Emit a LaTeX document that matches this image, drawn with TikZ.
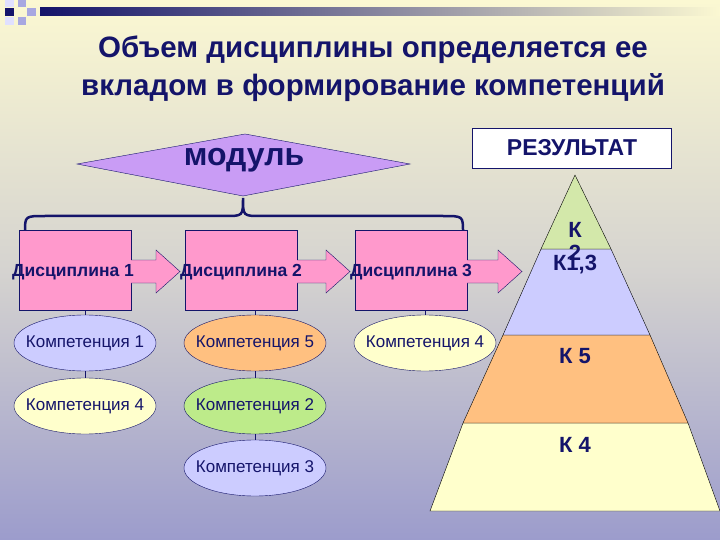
\documentclass[tikz,border=0pt]{standalone}
\usepackage{fontspec}
\setmainfont{Liberation Sans}
\usetikzlibrary{shapes.geometric}
\definecolor{navy}{HTML}{14146A}
\definecolor{pinkbox}{HTML}{FF99CC}
\definecolor{lav}{HTML}{CCCCFF}
\definecolor{pale}{HTML}{FFFFCC}
\definecolor{orng}{HTML}{FFC080}
\definecolor{grn}{HTML}{BDEB8A}
\definecolor{pgrn}{HTML}{D3E8AA}
\definecolor{viol}{HTML}{C99CF5}
\definecolor{bgtop}{HTML}{FBF8D2}
\definecolor{bgbot}{HTML}{9C9CCC}
\begin{document}
\begin{tikzpicture}[x=1pt,y=-1pt,
 disc/.style={draw=navy,fill=pinkbox,minimum width=112pt,minimum height=80pt,inner sep=0pt},
 disctext/.style={text=navy,font=\bfseries\fontsize{17.5}{17.5}\selectfont},
 comp/.style={ellipse,draw=navy,minimum width=142pt,minimum height=56pt,inner sep=0pt,text=navy,font=\fontsize{17}{17}\selectfont},
 comptext/.style={text=navy,font=\fontsize{17}{17}\selectfont},
 link/.style={draw=navy,thin},
 barrow/.style={draw=navy,fill=pinkbox},
 lvl/.style={draw=black,thin},
 klabel/.style={text=navy,font=\bfseries\fontsize{22}{22}\selectfont}]
\useasboundingbox (0,0) rectangle (720,540);
\shade[top color=bgtop,bottom color=bgbot,middle color=bgtop!60!bgbot] (0,0) rectangle (720,540);
% top decoration
\shade[left color=navy,right color=bgtop] (40,8) rectangle (720,16);
\fill[navy] (5,8) rectangle (14,16);
\fill[lav!80!navy] (18,0) rectangle (26,7);
\fill[lav!80!navy] (27,8) rectangle (36,16);
\fill[lav!80!navy] (18,17) rectangle (26,25);
\fill[lav!60!white] (5,0) rectangle (14,7);
\fill[lav!60!white] (5,17) rectangle (14,25);
% title
\node[text=navy,font=\bfseries\fontsize{29.5}{38}\selectfont,align=center] (title) at (373,69) {Объем дисциплины определяется ее\\вкладом в формирование компетенций};
% module diamond
\draw[navy,fill=viol] (77,164) -- (245,134) -- (410,164) -- (243,196) -- cycle;
\node[text=navy,font=\bfseries\fontsize{32}{32}\selectfont] (mod) at (244,160) {модуль};
% brace
\draw[navy,line width=2.5pt] (25,232) .. controls (25,216) .. (45,216) -- (225,216) .. controls (243,216) .. (243,198) .. controls (243,216) .. (261,216) -- (443,216) .. controls (463,216) .. (463,232);
% disciplines
\node[disc] (d1) at (75,270) {};
\node[disc] (d2) at (241,270) {};
\node[disc] (d3) at (411,270) {};
% block arrows
\foreach \s/\e in {131/180,297/350,467/522}{
 \draw[barrow] (\s,260) -- (\e-24,260) -- (\e-24,250) -- (\e,271.5) -- (\e-24,293) -- (\e-24,283) -- (\s,283);
}
\node[disctext] (t1) at (73,272) {Дисциплина 1};
\node[disctext] (t2) at (241,272) {Дисциплина 2};
\node[disctext] (t3) at (411,272) {Дисциплина 3};
% competencies (shapes, then texts)
\node[comp,fill=lav] (e1) at (85,343) {};
\node[comp,fill=pale] (e4a) at (85,406) {};
\node[comp,fill=orng] (e5) at (255,343) {};
\node[comp,fill=grn] (e2) at (255,406) {};
\node[comp,fill=lav] (e3) at (255,468) {};
\node[comp,fill=pale] (e4b) at (425,343) {};
\node[comptext] at (e1) {Компетенция 1};
\node[comptext] at (e4a) {Компетенция 4};
\node[comptext] at (e5) {Компетенция 5};
\node[comptext] at (e2) {Компетенция 2};
\node[comptext] at (e3) {Компетенция 3};
\node[comptext] at (e4b) {Компетенция 4};
\draw[link] (d1.south -| e1.north) -- (e1.north);
\draw[link] (e1) -- (e4a);
\draw[link] (d2.south -| e5.north) -- (e5.north);
\draw[link] (e5) -- (e2);
\draw[link] (e2) -- (e3);
\draw[link] (d3.south -| e4b.north) -- (e4b.north);
% result
\node[draw=navy,fill=white,minimum width=199pt,minimum height=40pt,text=navy,font=\bfseries\fontsize{23}{23}\selectfont] (res) at (572,148) {РЕЗУЛЬТАТ};
% pyramid
\coordinate (apex) at (575,175);
\filldraw[lvl,fill=pale] (463,423) -- (688,423) -- (720,511) -- (430,511) -- cycle;
\filldraw[lvl,fill=orng] (503,335) -- (650,335) -- (688,423) -- (463,423) -- cycle;
\filldraw[lvl,fill=lav] (541,249) -- (611,249) -- (650,335) -- (503,335) -- cycle;
\filldraw[lvl,fill=pgrn] (apex) -- (611,249) -- (541,249) -- cycle;
\node[klabel] (k) at (575,230) {К};
\node[klabel] (k2) at (575,253) {2};
\node[klabel] (k13) at (575,265) {К1,3};
\node[klabel] (k5) at (575,356) {К 5};
\node[klabel] (k4) at (575,445) {К 4};
\end{tikzpicture}
\end{document}
